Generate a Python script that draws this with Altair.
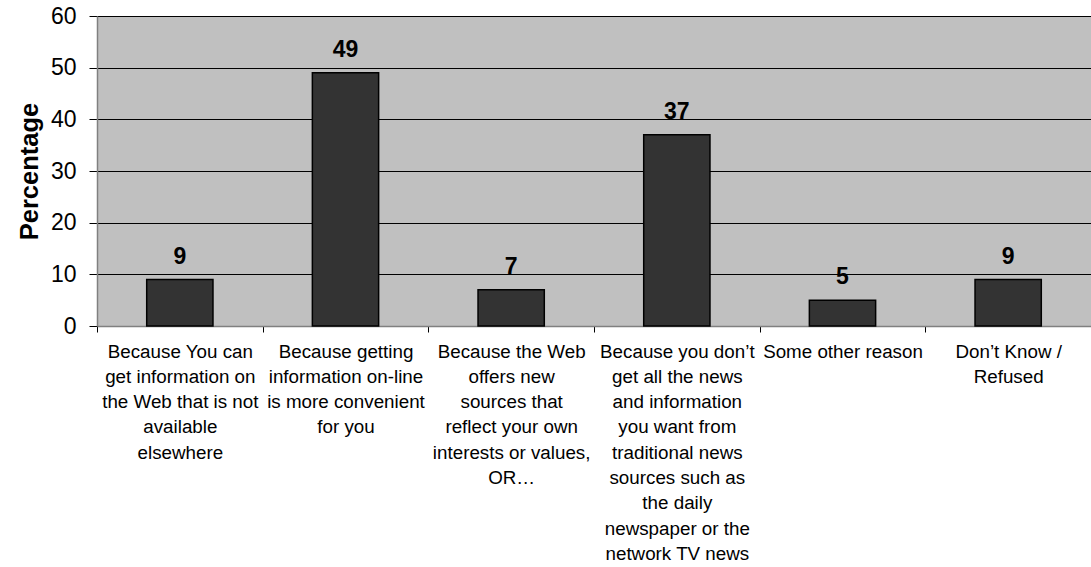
import altair as alt
import pandas as pd

categories = [
    "Because You can|get information on|the Web that is not|available|elsewhere",
    "Because getting|information on-line|is more convenient|for you",
    "Because the Web|offers new|sources that|reflect your own|interests or values,|OR…",
    "Because you don’t|get all the news|and information|you want from|traditional news|sources such as|the daily|newspaper or the|network TV news",
    "Some other reason",
    "Don’t Know  /|Refused",
]
values = [9, 49, 7, 37, 5, 9]
y_ticks = [0, 10, 20, 30, 40, 50, 60]

df = pd.DataFrame({"cat": categories, "pct": values})

W, H = 994, 310
step = W / len(categories)

x_enc = alt.X(
    "cat:N",
    sort=categories,
    title=None,
    scale=alt.Scale(paddingInner=0.6, paddingOuter=0.3),
    axis=alt.Axis(
        labelAngle=0,
        labelExpr="split(datum.label, '|')",
        labelFont="Liberation Sans",
        labelFontSize=18.8,
        labelColor="#000000",
        labelLineHeight=25.3,
        labelBaseline="top",
        labelAlign="center",
        labelPadding=10,
        labelLimit=400,
        labelOverlap=False,
        labelBound=False,
        labelFlush=False,
        tickSize=6,
        tickColor="#000000",
        tickWidth=1,
        tickOffset=-step / 2,
        labelOffset=step / 2,
        bandPosition=0.5,
        domainColor="#808080",
        domainWidth=1.5,
        grid=False,
    ),
)

y_enc = alt.Y(
    "pct:Q",
    title="Percentage",
    scale=alt.Scale(domain=[0, 60], nice=False),
    axis=alt.Axis(
        values=y_ticks,
        labelFont="Liberation Sans",
        labelFontSize=23,
        labelColor="#000000",
        labelPadding=13,
        tickSize=8,
        tickColor="#000000",
        domainColor="#808080",
        domainWidth=1.5,
        gridColor="#000000",
        gridWidth=1,
        titleFont="Liberation Sans",
        titleFontSize=25.5,
        titleFontWeight="bold",
        titleColor="#000000",
        titlePadding=8,
    ),
)

bars = alt.Chart(df).mark_bar(
    color="#333333", stroke="#000000", strokeWidth=1.5
).encode(x=x_enc, y=y_enc)

text = alt.Chart(df).mark_text(
    font="Liberation Sans",
    fontSize=23,
    fontWeight="bold",
    color="#000000",
    baseline="alphabetic",
    dy=-16,
).encode(x=alt.X("cat:N", sort=categories), y="pct:Q", text="pct:Q")

chart = (
    alt.layer(bars, text)
    .properties(
        width=W,
        height=H,
        autosize=alt.AutoSizeParams(type="none"),
        padding={"left": 97, "top": 16, "right": 0, "bottom": 241},
        background="#ffffff",
    )
    .configure_view(fill="#C0C0C0", stroke=None)
)

chart.save("out.html", embed_options={"renderer": "svg", "actions": False})
